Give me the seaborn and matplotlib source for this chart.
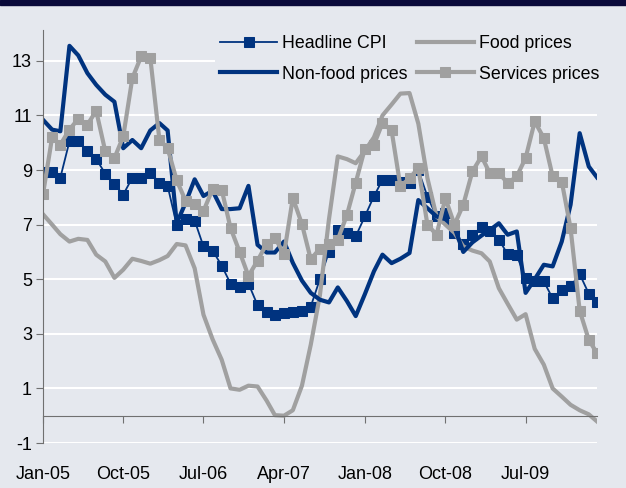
import pandas as pd
import matplotlib.pyplot as plt
import matplotlib.dates as mdates
from matplotlib.patches import Rectangle
import seaborn as sns

months = pd.date_range("2005-01-01", periods=63, freq="MS")
tick_dates = pd.date_range("2005-01-01", "2009-07-01", freq="9MS")

headline = [8.94, 8.94, 8.72, 10.05, 10.05, 9.7, 9.4, 8.87, 8.48, 8.1,
            8.72, 8.72, 8.9, 8.54, 8.42, 6.98, 7.22, 7.15, 6.2, 6.05,
            5.5, 4.84, 4.72, 4.84, 4.05, 3.8, 3.7, 3.75, 3.8, 3.85,
            4.0, 5.0, 6.0, 6.81, 6.69, 6.57, 7.3, 8.04, 8.64, 8.64,
            8.55, 8.52, 9.0, 8.03, 7.3, 7.42, 6.69, 6.3, 6.63, 6.9,
            6.75, 6.45, 5.92, 5.87, 5.04, 4.92, 4.92, 4.3, 4.62, 4.74,
            5.19, 4.47, 4.18]

food = [7.38, 7.0, 6.65, 6.38, 6.48, 6.44, 5.9, 5.65, 5.05, 5.35,
        5.75, 5.67, 5.57, 5.7, 5.85, 6.29, 6.24, 5.4, 3.7, 2.8,
        2.05, 1.0, 0.95, 1.1, 1.07, 0.55, 0.02, 0.0, 0.2, 1.1,
        2.6, 4.4, 7.2, 9.5, 9.4, 9.25, 9.7, 10.2, 11.0, 11.4,
        11.8, 11.82, 10.7, 8.7, 7.3, 7.0, 6.7, 6.2, 6.05, 5.95,
        5.65, 4.67, 4.1, 3.52, 3.72, 2.45, 1.87, 1.0, 0.7, 0.4,
        0.2, 0.05, -0.21]

nonfood = [10.84, 10.48, 10.42, 13.55, 13.2, 12.55, 12.12, 11.76, 11.5, 9.8,
           10.1, 9.8, 10.45, 10.72, 10.45, 7.05, 7.8, 8.66, 8.05, 8.24,
           7.57, 7.57, 7.6, 8.42, 6.26, 5.98, 5.98, 6.38, 5.6, 4.95,
           4.5, 4.25, 4.15, 4.7, 4.2, 3.65, 4.45, 5.29, 5.9, 5.59,
           5.75, 5.96, 7.9, 7.6, 7.3, 7.2, 6.9, 6.0, 6.35, 6.6,
           6.8, 7.05, 6.63, 6.75, 4.5, 5.0, 5.53, 5.47, 6.38, 7.73,
           10.35, 9.13, 8.73]

services = [8.12, 10.2, 9.93, 10.48, 10.88, 10.66, 11.17, 9.68, 9.44, 10.23,
            12.37, 13.16, 13.12, 10.11, 9.8, 8.62, 7.88, 7.75, 7.5, 8.3,
            8.28, 6.88, 6.0, 5.12, 5.68, 6.3, 6.52, 5.92, 7.98, 7.02,
            5.73, 6.12, 6.3, 6.45, 7.35, 8.54, 9.78, 9.93, 10.72, 10.45,
            8.4, 8.7, 9.07, 7.0, 6.63, 7.97, 7.0, 7.73, 8.95, 9.5,
            8.89, 8.89, 8.52, 8.77, 9.44, 10.78, 10.17, 8.77, 8.58, 6.87,
            3.85, 2.78, 2.29]

bg = "#E5E8EE"
navy = "#00337F"
grey = "#A0A0A0"
axis_col = "#707070"

plt.rcParams["font.family"] = ["Liberation Sans", "DejaVu Sans"]
plt.rcParams["axes.unicode_minus"] = False

fig = plt.figure(figsize=(6.26, 4.88), dpi=100, facecolor=bg)
ax = fig.add_axes([0.0687, 0.0922, 0.885, 0.8463])
ax.set_facecolor(bg)

sns.lineplot(x=months, y=headline, ax=ax, color=navy, linewidth=1.3,
             marker="s", markersize=7, markeredgecolor=navy, label="Headline CPI")
sns.lineplot(x=months, y=food, ax=ax, color=grey, linewidth=3, label="Food prices")
sns.lineplot(x=months, y=nonfood, ax=ax, color=navy, linewidth=3, label="Non-food prices")
sns.lineplot(x=months, y=services, ax=ax, color=grey, linewidth=3,
             marker="s", markersize=7, markeredgecolor=grey, label="Services prices")

ax.set_xlim(months[0], months[-1])
ax.set_ylim(-1, 14.13)
ax.set_yticks(range(-1, 14, 2))
ax.set_xticks(tick_dates)
ax.xaxis.set_major_formatter(mdates.DateFormatter("%b-%y"))
ax.set_xlabel("")
ax.set_ylabel("")

ax.yaxis.grid(True, color="white", linewidth=1.5)
ax.xaxis.grid(False)
ax.set_axisbelow(True)

for s in ["top", "right"]:
    ax.spines[s].set_visible(False)
ax.spines["bottom"].set_position(("data", 0))
ax.spines["bottom"].set_color(axis_col)
ax.spines["left"].set_color(axis_col)

ax.tick_params(axis="y", direction="out", length=5, color=axis_col, labelsize=13, pad=3)
ax.tick_params(axis="x", direction="out", length=5, color=axis_col, labelsize=13, pad=31)

handles, labels = ax.get_legend_handles_labels()
order = [0, 2, 1, 3]
ax.legend([handles[i] for i in order], [labels[i] for i in order],
          loc="upper left", bbox_to_anchor=(0.31, 1.0), ncol=2,
          facecolor=bg, edgecolor="none", framealpha=1, fontsize=12.8,
          handlelength=3.2, handletextpad=0.3, columnspacing=0.5,
          labelspacing=0.75, borderaxespad=0, borderpad=0.3)

fig.patches.append(Rectangle((0, 1 - 5 / 488), 1, 5 / 488, transform=fig.transFigure,
                             color="#0A0A3A"))

fig.savefig("out.png", dpi=100, facecolor=bg)
